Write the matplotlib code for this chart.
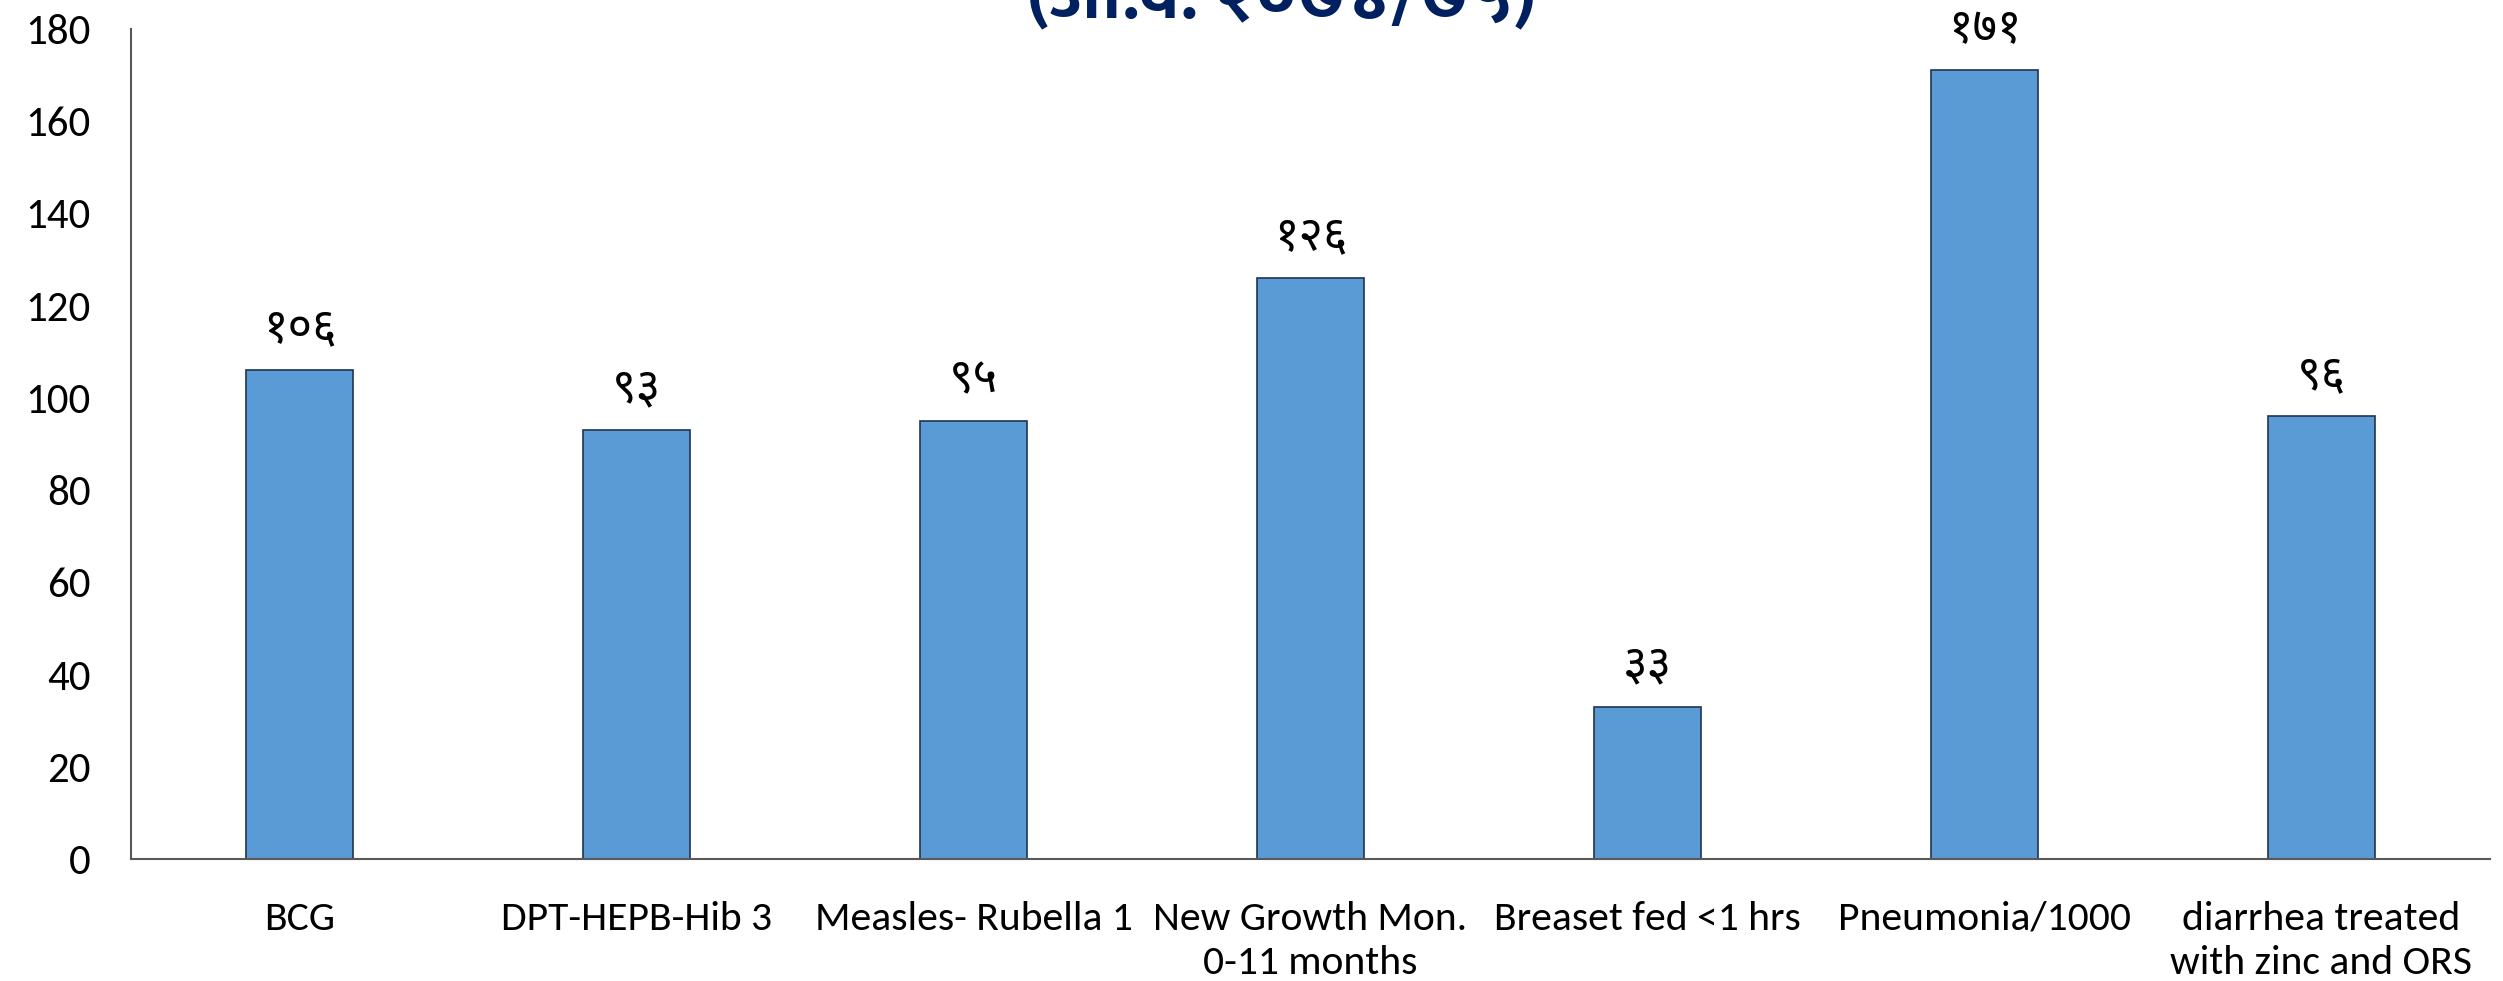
import matplotlib
matplotlib.use("Agg")
import matplotlib.pyplot as plt
from matplotlib import font_manager
from matplotlib.font_manager import FontProperties
from fontTools.ttLib import TTFont

categories = ["BCG", "DPT-HEPB-Hib 3", "Measles- Rubella 1", "New Growth Mon.\n0-11 months",
              "Breaset fed <1 hrs", "Pneumonia/1000", "diarrhea treated\nwith zinc and ORS"]
values = [106, 93, 95, 126, 33, 171, 96]
title = "(आ.व. २०७४/७५)"
yticks = list(range(0, 181, 20))

DEV = "०१२३४५६७८९"


def to_dev(n):
    # nepali digits for the value labels
    return "".join(DEV[int(c)] for c in str(n))


def covers(family, text, weight="normal"):
    try:
        path = font_manager.findfont(FontProperties(family=family, weight=weight), fallback_to_default=False)
        cmap = TTFont(path, fontNumber=0, lazy=True).getBestCmap()
        return all(ord(c) in cmap for c in text if not c.isspace())
    except Exception:
        return False


names = {f.name for f in font_manager.fontManager.ttflist}
dev_name = next((p for p in ["Noto Sans Devanagari", "Mukta", "Hind"]
                 if p in names and covers(p, DEV)), "DejaVu Sans")
title_name = next((p for p in ["Mukta", "Noto Sans Devanagari", "Poppins", "Hind"]
                   if p in names and covers(p, title, "bold")), dev_name)
label_font = next((p for p in ["Carlito", "Calibri", "Lato"] if p in names), "DejaVu Sans")

fig = plt.figure(figsize=(25.03, 9.81), dpi=100)
ax = fig.add_axes([131 / 2503, 1 - 859 / 981, (2490 - 131) / 2503, (859 - 29) / 981])

x = range(len(categories))
ax.bar(x, values, width=0.32, color="#5B9BD5", edgecolor="#1F3550", linewidth=1.2)

for xi, v in zip(x, values):
    ax.text(xi, v + 8.9, to_dev(v), ha="center", va="center", fontsize=34,
            family=[dev_name, "DejaVu Sans"])

ax.set_ylim(0, 180)
ax.set_xlim(-0.5, len(categories) - 0.5)
ax.set_yticks(yticks)
ax.set_yticklabels([str(t) for t in yticks], fontsize=31, family=label_font)
ax.tick_params(axis="y", length=0, pad=29)
ax.tick_params(axis="x", length=0, pad=30)
ax.set_xticks(list(x))
ax.set_xticklabels(categories, fontsize=30, family=label_font, linespacing=1.3)
for sp in ["top", "right"]:
    ax.spines[sp].set_visible(False)
for sp in ["left", "bottom"]:
    ax.spines[sp].set_color("#595959")
    ax.spines[sp].set_linewidth(1.5)

fig.text(0.512, 1 - 18 / 981, title, ha="center", va="baseline", fontsize=54, fontweight="bold",
         color="#002060", family=[title_name, "DejaVu Sans"])

fig.savefig("out.png", dpi=100)
